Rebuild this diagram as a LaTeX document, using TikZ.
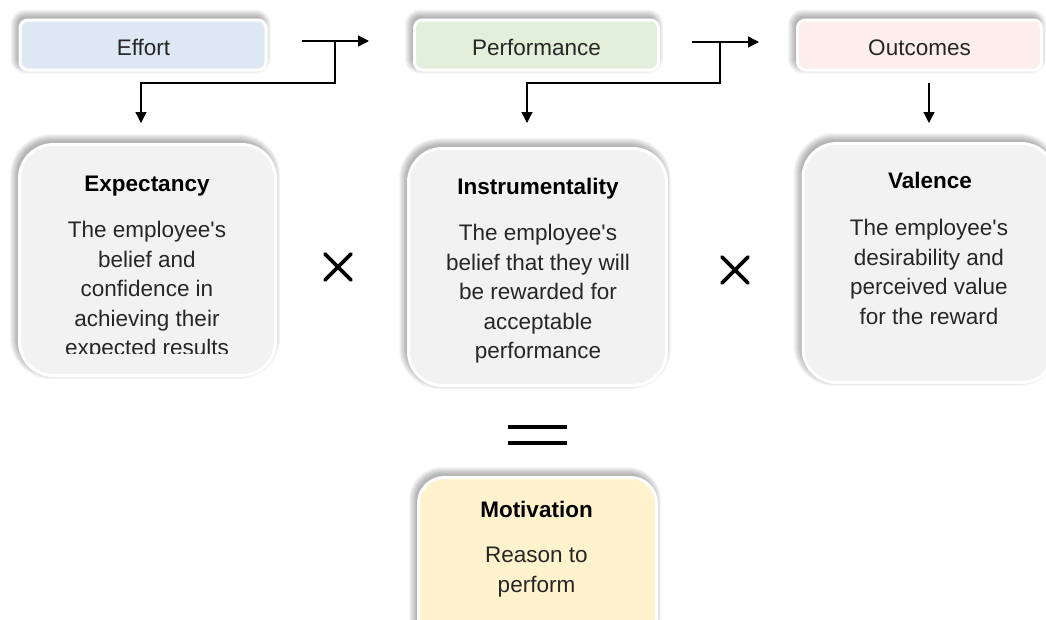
\documentclass[tikz,border=0pt]{standalone}
\usepackage{fontspec}
\setmainfont{Liberation Sans}
\usetikzlibrary{arrows.meta,calc}

\pgfdeclarelayer{background}
\pgfsetlayers{background,main}

\definecolor{effortfill}{HTML}{DEE8F4}
\definecolor{perffill}{HTML}{E2EFDA}
\definecolor{outfill}{HTML}{FDEDEB}
\definecolor{cardfill}{HTML}{F2F2F2}
\definecolor{motivfill}{HTML}{FFF2CC}
\definecolor{bodytext}{HTML}{262626}

\newcommand{\apos}{\textquotesingle}

% soft shadow behind a node, offset up and to the left: #1 node, #2 corner radius
\newcommand{\softshade}[2]{%
  \begin{pgfonlayer}{background}
    \foreach \e in {0,1,...,7} {
      \pgfmathsetmacro{\rr}{#2+\e}
      \fill[black, opacity=0.04, rounded corners=\rr pt]
        ($(#1.north west)+(-2.5-\e,-3.5-\e)$) rectangle ($(#1.south east)+(-2.5+\e,-3.5+\e)$);
    }
  \end{pgfonlayer}}

\tikzset{
  stagebox/.style={draw=white, line width=3pt, rounded corners=8pt,
      minimum width=246pt, minimum height=50pt, inner sep=0pt, outer sep=0pt},
  cardbox/.style={draw=white, line width=3pt, rounded corners=34pt,
      inner sep=0pt, outer sep=0pt, fill=cardfill},
  stagelabel/.style={anchor=base, inner sep=0pt, font=\fontsize{22.5}{27}\selectfont, text=bodytext},
  cardtitle/.style={anchor=base, inner sep=0pt, font=\bfseries\fontsize{22.5}{27}\selectfont, text=black},
  cardbody/.style={anchor=north, inner sep=0pt, align=center,
      font=\fontsize{22.5}{29.6}\selectfont, text=bodytext},
  flow/.style={line width=1.3pt, draw=black},
  flowtip/.style={flow, -{Triangle[length=11pt,width=11pt]}},
  opsign/.style={line width=3.6pt, draw=black, line cap=round},
}

\begin{document}
\begin{tikzpicture}[x=1pt, y=-1pt]
  \clip (0,0) rectangle (1046,619);
  \begin{pgfonlayer}{background}
    \fill[white] (0,0) rectangle (1046,619);
  \end{pgfonlayer}

  % top row: stages
  \node[stagebox, fill=effortfill] (effort) at (143,45) {};
  \node[stagebox, fill=perffill, minimum width=244pt] (perf) at (536.5,45) {};
  \node[stagebox, fill=outfill, minimum width=244pt] (outc) at (919.5,45) {};
  \node[stagelabel] (effortlbl) at (143.5,55) {Effort};
  \node[stagelabel] (perflbl) at (536.5,55) {Performance};
  \node[stagelabel] (outclbl) at (919.5,55) {Outcomes};

  % cards
  \node[cardbox, minimum width=256pt, minimum height=231pt] (expect) at (147.5,260) {};
  \node[cardbox, minimum width=258pt, minimum height=237pt] (instr) at (537.5,267) {};
  \node[cardbox, minimum width=252pt, minimum height=239pt] (valen) at (929,263) {};
  \node[cardbox, fill=motivfill, rounded corners=26pt, minimum width=238pt, minimum height=200pt] (motiv) at (537.5,577.5) {};

  % shadows
  \softshade{effort}{8}
  \softshade{perf}{8}
  \softshade{outc}{8}
  \softshade{expect}{34}
  \softshade{instr}{34}
  \softshade{valen}{34}
  \softshade{motiv}{26}

  % card texts
  \node[cardtitle] (expectttl) at (147,191) {Expectancy};
  \begin{scope}
    \clip (20,140) rectangle (280,353.5);
    \node[cardbody] (expectbody) at (147,221) {The employee\apos s\\belief and\\confidence in\\achieving their\\expected results};
  \end{scope}
  \node[cardtitle] (instrttl) at (538,194) {Instrumentality};
  \node[cardbody] (instrbody) at (538,224) {The employee\apos s\\belief that they will\\be rewarded for\\acceptable\\performance};
  \node[cardtitle] (valenttl) at (930,188) {Valence};
  \node[cardbody] (valenbody) at (929,219) {The employee\apos s\\desirability and\\perceived value\\for the reward};
  \node[cardtitle] (motivttl) at (536.5,517) {Motivation};
  \node[cardbody] (motivbody) at (536.5,547) {Reason to\\perform};

  % connectors
  \coordinate (ea) at (302,41);
  \coordinate (eb) at (369,41);
  \coordinate (ej) at (335,41);
  \coordinate (ed) at (141,123);
  \draw[flowtip] (ea) -- (eb);
  \draw[flowtip] (ej) |- (ed |- 0,83) -- (ed);

  \coordinate (pa) at (692,42);
  \coordinate (pb) at (759,42);
  \coordinate (pj) at (720,42);
  \coordinate (pd) at (527,123);
  \draw[flowtip] (pa) -- (pb);
  \draw[flowtip] (pj) |- (pd |- 0,83) -- (pd);

  \coordinate (oa) at (929,83);
  \coordinate (od) at (929,123);
  \draw[flowtip] (oa) -- (od);

  % operators
  \draw[opsign] (325,254) -- (351,280) (351,254) -- (325,280);
  \draw[opsign] (722,257) -- (748,283) (748,257) -- (722,283);
  \draw[line width=4pt] (508,426.5) -- (567,426.5) (508,442.5) -- (567,442.5);
\end{tikzpicture}
\end{document}
